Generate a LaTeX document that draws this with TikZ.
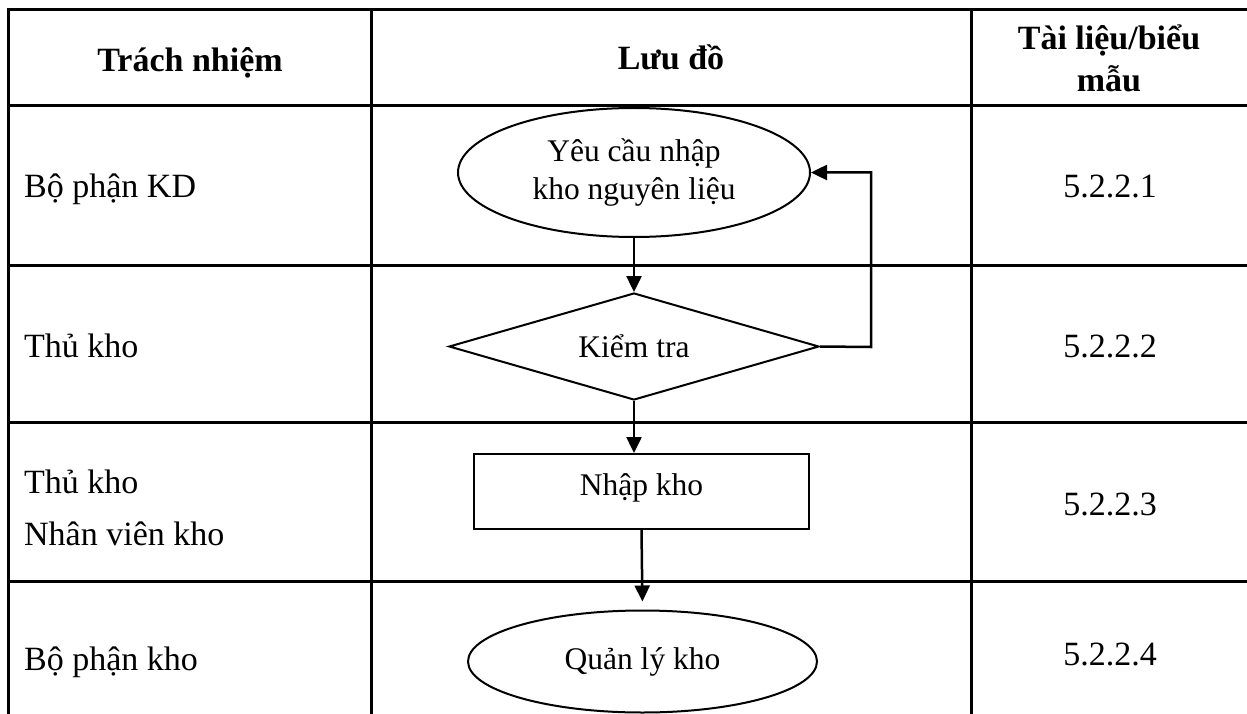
\documentclass[tikz,border=0pt]{standalone}
\usepackage{fontspec}
\setmainfont{Liberation Serif}
\usetikzlibrary{arrows.meta,shapes.geometric,positioning}

\begin{document}
\begin{tikzpicture}[x=1pt,y=-1pt,>={Triangle[length=16pt,width=15pt]},
  cell/.style={font=\fontsize{34}{52}\selectfont,inner sep=0pt},
  head/.style={cell,font=\fontsize{34}{42}\selectfont\bfseries,align=center},
  flow/.style={draw,line width=2pt,font=\fontsize{31.5}{38}\selectfont,inner sep=0pt,align=center},
  start/.style={flow,ellipse,minimum width=352pt,minimum height=129pt},
  check/.style={flow,diamond,aspect=3.46,minimum width=370pt,minimum height=107pt},
  work/.style={flow,rectangle,minimum width=335pt,minimum height=75pt},
  link/.style={->,line width=2.5pt}]

\useasboundingbox (0,0) rectangle (1247,714);

% table grid
\draw[line width=3pt] (8,724) -- (8,10) -- (1251,10);
\foreach \y in {106,265,422,581} \draw[line width=3pt] (8,\y) -- (1251,\y);
\foreach \x in {371,971} \draw[line width=3pt] (\x,10) -- (\x,724);

% headers
\node[head,anchor=base] (hresp) at (190,72) {Trách nhiệm};
\node[head,anchor=base] (hflow) at (671,70) {Lưu đồ};
\node[head,anchor=base] (hdoc)  at (1109,92) {Tài liệu/biểu\\mẫu};

% responsibility
\node[cell,anchor=base west] (resp1) at (24,198) {Bộ phận KD};
\node[cell,anchor=base west] (resp2) at (24,357) {Thủ kho};
\node[cell,anchor=base west,align=left] (resp3) at (24,545) {Thủ kho\\Nhân viên kho};
\node[cell,anchor=base west] (resp4) at (24,670) {Bộ phận kho};

% documents
\node[cell,anchor=base] (doc1) at (1110,198) {5.2.2.1};
\node[cell,anchor=base] (doc2) at (1110,357) {5.2.2.2};
\node[cell,anchor=base] (doc3) at (1110,515) {5.2.2.3};
\node[cell,anchor=base] (doc4) at (1110,665) {5.2.2.4};

% flow chart
\node[start] (yc) at (634,172.5) {Yêu cầu nhập\\kho nguyên liệu};
\node[check,below of=yc,node distance=174pt] (kt) {Kiểm tra};
\node[work,text depth=14pt] (nk) at (641.5,491.5) {Nhập kho};
\node[start,minimum width=349pt,minimum height=102pt] (ql) at (642.5,661.5) {Quản lý kho};
\coordinate (back) at (871,347);

\draw[link] (yc.south) -- (kt.north);
\draw[link] (kt.south) -- (kt.south |- nk.north);
\draw[link,shorten >=8pt] (nk.south) -- (ql.north);
\draw[link] (kt.east) -- (back) |- (yc.east);
\end{tikzpicture}
\end{document}
